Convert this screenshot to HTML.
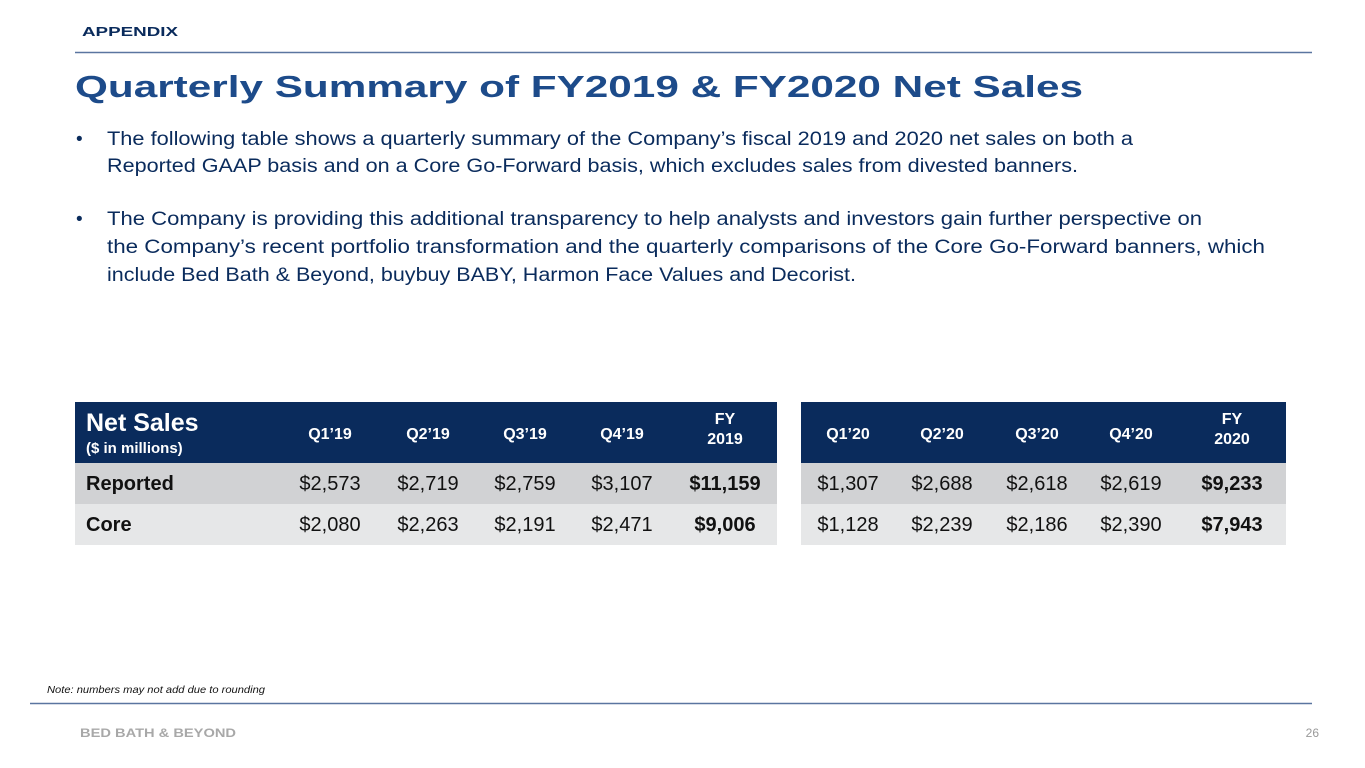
<!DOCTYPE html>
<html><head><meta charset="utf-8"><style>
html,body{margin:0;padding:0;background:#fff;}
svg{display:block;font-family:"Liberation Sans",sans-serif;}
</style></head><body>
<svg id="slide" width="1365" height="768" viewBox="0 0 1365 768" xmlns="http://www.w3.org/2000/svg">
<text x="82" y="36" font-size="13" font-weight="bold" fill="#0a2b5c" textLength="96" lengthAdjust="spacingAndGlyphs">APPENDIX</text>
<line x1="75" y1="52.5" x2="1312" y2="52.5" stroke="#5a75a0" stroke-width="1.5"/>
<text x="75" y="97" font-size="31" font-weight="bold" fill="#1d4b8a" textLength="1008" lengthAdjust="spacingAndGlyphs">Quarterly Summary of FY2019 &amp; FY2020 Net Sales</text>
<g font-size="19" fill="#0a2b5c">
<text x="76" y="145">•</text>
<text x="107" y="145" textLength="1026" lengthAdjust="spacingAndGlyphs">The following table shows a quarterly summary of the Company’s fiscal 2019 and 2020 net sales on both a</text>
<text x="107" y="172" textLength="971" lengthAdjust="spacingAndGlyphs">Reported GAAP basis and on a Core Go-Forward basis, which excludes sales from divested banners.</text>
<text x="76" y="225">•</text>
<text x="107" y="225" textLength="1095" lengthAdjust="spacingAndGlyphs">The Company is providing this additional transparency to help analysts and investors gain further perspective on</text>
<text x="107" y="253" textLength="1158" lengthAdjust="spacingAndGlyphs">the Company’s recent portfolio transformation and the quarterly comparisons of the Core Go-Forward banners, which</text>
<text x="107" y="281" textLength="749" lengthAdjust="spacingAndGlyphs">include Bed Bath &amp; Beyond, buybuy BABY, Harmon Face Values and Decorist.</text>
</g>
<g id="tables"></g>
<text x="47" y="693" font-size="10.5" font-style="italic" fill="#111" textLength="218" lengthAdjust="spacingAndGlyphs">Note: numbers may not add due to rounding</text>
<line x1="30" y1="703.5" x2="1312" y2="703.5" stroke="#5a75a0" stroke-width="1.5"/>
<text x="80" y="737" font-size="12" font-weight="bold" fill="#a8a8a8" textLength="156" lengthAdjust="spacingAndGlyphs">BED BATH &amp; BEYOND</text>
<text x="1319" y="737" font-size="12" fill="#999" text-anchor="end">26</text>
</svg>
<script>
const headers19 = ["Q1’19","Q2’19","Q3’19","Q4’19","FY|2019"];
const headers20 = ["Q1’20","Q2’20","Q3’20","Q4’20","FY|2020"];
const rowLabels = ["Reported","Core"];
const reported19 = ["$2,573","$2,719","$2,759","$3,107","$11,159"];
const core19 = ["$2,080","$2,263","$2,191","$2,471","$9,006"];
const reported20 = ["$1,307","$2,688","$2,618","$2,619","$9,233"];
const core20 = ["$1,128","$2,239","$2,186","$2,390","$7,943"];

const NS="http://www.w3.org/2000/svg";
const g=document.getElementById('tables');
function mk(tag,attrs,text){const e=document.createElementNS(NS,tag);for(const k in attrs)e.setAttribute(k,attrs[k]);if(text!==undefined)e.textContent=text;g.appendChild(e);return e;}
const rowTop=[463,504], rowH=41, headTop=402, headH=61;
const rowFill=["#d1d2d4","#e6e7e8"];
function table(x0,x1,cols,headers,rows,key,hasLabel){
  let r=mk('rect',{x:x0,y:headTop,width:x1-x0,height:headH,fill:"#0a2b5c"});
  
  
  rows.forEach((vals,i)=>{
    let b=mk('rect',{x:x0,y:rowTop[i],width:x1-x0,height:rowH,fill:rowFill[i]});
    
    
    vals.forEach((v,j)=>{
      let t=mk('text',{x:cols[j],y:rowTop[i]+27,'font-size':20,'text-anchor':'middle',fill:'#111','font-weight':j===4?'bold':'normal'},v);
      
      
    });
    if(hasLabel){
      let l=mk('text',{x:86,y:rowTop[i]+27,'font-size':20,'font-weight':'bold',fill:'#111'},rowLabels[i]);
      
      
    }
  });
  headers.forEach((h,j)=>{
    const parts=h.split('|');
    parts.forEach((p,k)=>{
      const y=parts.length===1?439:(424+k*20);
      let t=mk('text',{x:cols[j],y:y,'font-size':16,'font-weight':'bold','text-anchor':'middle',fill:'#fff'},p);
      
      
    });
  });
}
table(75,777,[330,428,525,622,725],headers19,[reported19,core19],'fy2019',true);
table(801,1286,[848,942,1037,1131,1232],headers20,[reported20,core20],'fy2020',false);
let t1=mk('text',{x:86,y:431,'font-size':25,'font-weight':'bold',fill:'#fff'},'Net Sales');


let t2=mk('text',{x:86,y:453,'font-size':15,'font-weight':'bold',fill:'#fff'},'($ in millions)');


</script>
</body></html>
